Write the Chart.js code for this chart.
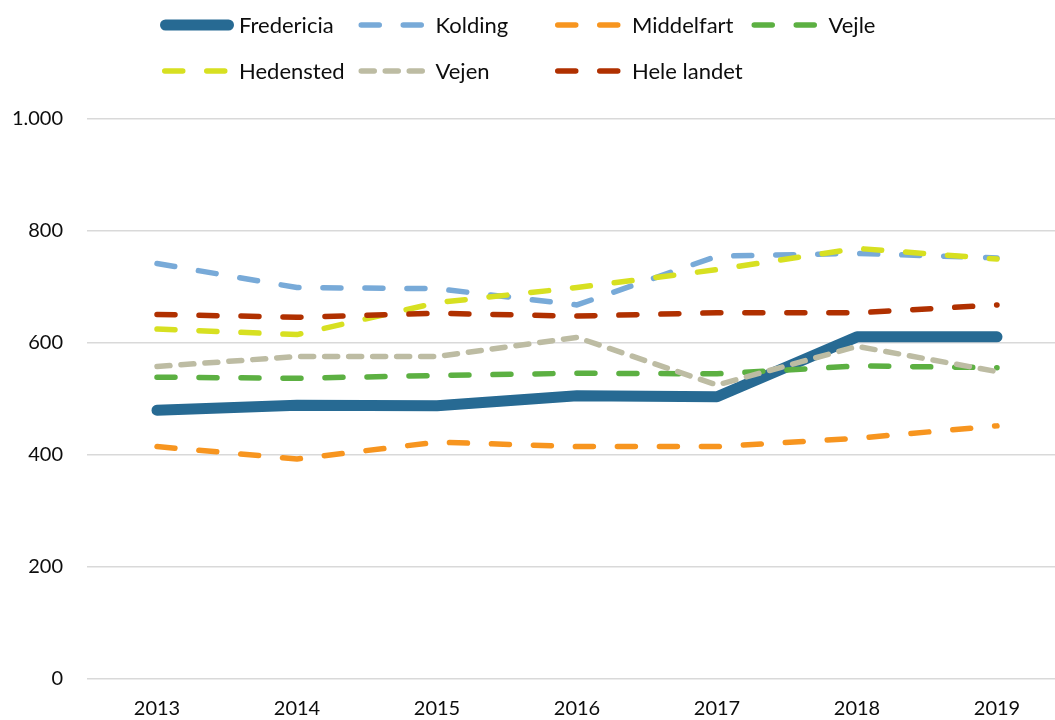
<!DOCTYPE html>
<html lang="da">
<head>
<meta charset="utf-8">
<title>Fredericia og nabokommuner</title>
<script src="https://cdn.jsdelivr.net/npm/chart.js@4.4.1/dist/chart.umd.min.js"></script>
<style>
  html, body { margin: 0; padding: 0; background: #fff; overflow: hidden; }
  #wrap { width: 1068px; height: 720px; }
</style>
</head>
<body>
<div id="wrap"><canvas id="chart" width="1068" height="720"></canvas></div>
<script>
/* =========================================================
   DATA
========================================================= */

const years = ["2013", "2014", "2015", "2016", "2017", "2018", "2019"];

const fredericia = [480, 489, 488, 506, 504, 611, 611];
const kolding    = [742, 699, 697, 668, 755, 760, 752];
const middelfart = [415, 393, 423, 415, 415, 430, 452];
const vejle      = [539, 537, 542, 546, 545, 559, 556];
const hedensted  = [625, 615, 672, 699, 731, 769, 750];
const vejen      = [558, 576, 576, 610, 525, 594, 549];
const heleLandet = [651, 646, 653, 648, 654, 654, 668];

const yTicks = [0, 200, 400, 600, 800, 1000];

/* =========================================================
   STYLE
========================================================= */

const FONT = "Lato, 'Noto Sans', sans-serif";
const TEXT_COLOR = "#0d0d0d";
const LONG_DASH = [18, 24];
const SHORT_DASH = [13, 11];

function series(label, data, color, width, dash) {
  return {
    label,
    data,
    borderColor: color,
    backgroundColor: color,
    borderWidth: width,
    borderDash: dash,
    borderCapStyle: "round",
    borderJoinStyle: "round",
    pointRadius: 0,
    pointHoverRadius: 0,
    tension: 0
  };
}

const datasets = [
  series("Fredericia", fredericia, "#276a93", 11, []),
  series("Kolding", kolding, "#78aad8", 5.5, LONG_DASH),
  series("Middelfart", middelfart, "#f7951f", 5.5, LONG_DASH),
  series("Vejle", vejle, "#5cb042", 5.5, LONG_DASH),
  series("Hedensted", hedensted, "#d7e021", 5.5, LONG_DASH),
  series("Vejen", vejen, "#bdbca3", 5.5, SHORT_DASH),
  series("Hele landet", heleLandet, "#b03000", 5.5, LONG_DASH)
];

// first series at the bottom, later ones drawn on top
datasets.forEach((ds, i) => { ds.order = datasets.length - i; });

/* =========================================================
   LEGEND (two rows, fixed columns like the original)
========================================================= */

const legendPlugin = {
  id: "gridLegend",
  afterDraw(chart) {
    const ctx = chart.ctx;
    const startX = 160;
    const colW = 196.5;
    const rowY = [25, 71];
    const perRow = 4;

    ctx.save();
    ctx.font = `22px ${FONT}`;
    ctx.textBaseline = "middle";
    ctx.fillStyle = TEXT_COLOR;

    chart.data.datasets.forEach((ds, i) => {
      const col = i % perRow;
      const row = Math.floor(i / perRow);
      const solid = ds.borderWidth > 6;
      const x = startX + col * colW + (solid ? 0 : 2);
      const y = rowY[row];
      const w = solid ? 74 : 70;

      ctx.beginPath();
      ctx.strokeStyle = ds.borderColor;
      ctx.lineWidth = ds.borderWidth;
      ctx.lineCap = "round";
      ctx.setLineDash(ds.borderDash || []);
      ctx.moveTo(x + ds.borderWidth / 2, y);
      ctx.lineTo(x + w - ds.borderWidth / 2, y);
      ctx.stroke();

      ctx.setLineDash([]);
      ctx.fillText(ds.label, startX + col * colW + 79, y + 1);
    });

    ctx.restore();
  }
};

/* =========================================================
   CHART
========================================================= */

new Chart(document.getElementById("chart"), {
  type: "line",
  data: { labels: years, datasets },
  options: {
    responsive: false,
    animation: false,
    layout: { padding: { top: 119, right: 1, left: 0, bottom: 0 } },
    plugins: {
      legend: { display: false },
      tooltip: { enabled: false }
    },
    scales: {
      x: {
        offset: true,
        grid: { display: false, drawTicks: false },
        border: { display: false },
        ticks: {
          color: TEXT_COLOR,
          font: { family: FONT, size: 20 },
          padding: 18,
          maxRotation: 0
        },
        afterFit(scale) { scale.height = 41; }
      },
      y: {
        min: 0,
        max: 1000,
        grid: {
          color: "#d9d9d9",
          lineWidth: 1.5,
          drawTicks: false
        },
        border: { display: false },
        afterBuildTicks(scale) {
          scale.ticks = yTicks.map((v) => ({ value: v }));
        },
        ticks: {
          color: TEXT_COLOR,
          font: { family: FONT, size: 20 },
          padding: 24,
          callback: (v) => Number(v).toLocaleString("da-DK")
        },
        afterFit(scale) { scale.width = 87; }
      }
    }
  },
  plugins: [legendPlugin]
});
</script>
</body>
</html>
